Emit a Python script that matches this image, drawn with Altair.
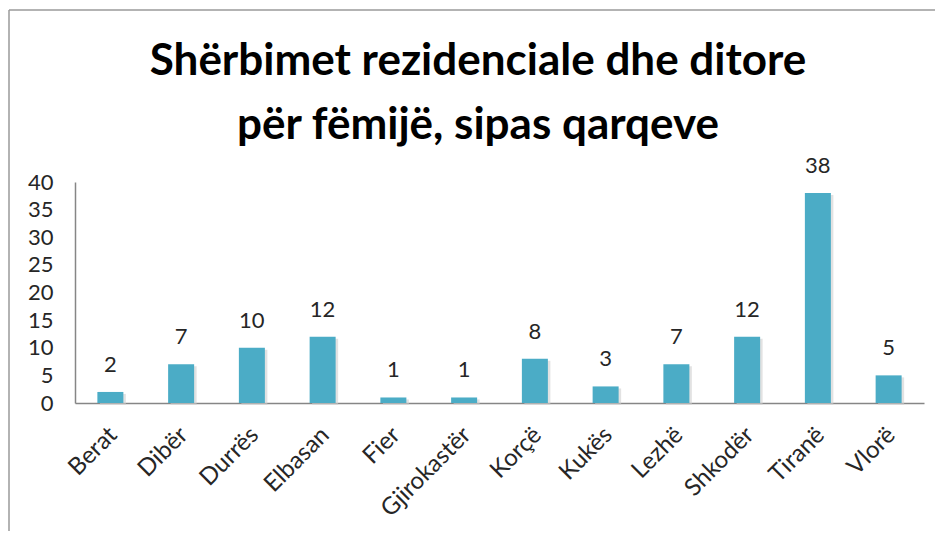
import altair as alt
import pandas as pd

categories = ["Berat", "Dibër", "Durrës", "Elbasan", "Fier", "Gjirokastër",
              "Korçë", "Kukës", "Lezhë", "Shkodër", "Tiranë", "Vlorë"]
values = [2, 7, 10, 12, 1, 1, 8, 3, 7, 12, 38, 5]
y_ticks = [0, 5, 10, 15, 20, 25, 30, 35, 40]
title_lines = ["Shërbimet rezidenciale dhe ditore", "për fëmijë, sipas qarqeve"]

df = pd.DataFrame({"qarku": categories, "vlera": values})
one_df = pd.DataFrame({"k": [0]})

FONT = "Lato"
TXT = "#262626"

x_enc = alt.X("qarku:N", sort=categories, title=None,
              axis=alt.Axis(labelAngle=-45, labelAlign="right", labelBaseline="middle",
                            labelPadding=28, labelOffset=3, ticks=False,
                            labelFontSize=24, labelFont=FONT, labelColor=TXT,
                            labelOverlap=False,
                            domainColor="#868686", domainWidth=1.5))
y_enc = alt.Y("vlera:Q", title=None,
              scale=alt.Scale(domain=[0, 40], nice=False),
              axis=alt.Axis(values=y_ticks, grid=False, ticks=False, labelPadding=22,
                            labelFontSize=22, labelFont=FONT, labelColor=TXT,
                            labelOverlap=False, labelBound=False,
                            domainColor="#868686", domainWidth=1.5))

base = alt.Chart(df).encode(x=x_enc, y=y_enc)
shadow = base.mark_bar(size=26, color="#cfcfcf", opacity=0.6, xOffset=2.5, yOffset=2)
bars = base.mark_bar(size=26, color="#4BACC6")
labels = base.mark_text(baseline="alphabetic", dy=-20, fontSize=22, font=FONT,
                        color=TXT).encode(text="vlera:Q")

extra = alt.Chart(one_df)
left_line = extra.mark_rule(color="#9a9a9a", strokeWidth=1.5).encode(
    x=alt.value(-66), y=alt.value(-172), y2=alt.value(700))
top_line = extra.mark_rule(color="#9a9a9a", strokeWidth=1.5).encode(
    x=alt.value(-66), x2=alt.value(1000), y=alt.value(-172))
title = extra.mark_text(font=FONT, fontSize=44, fontWeight="bold", color="#000000",
                        align="center", baseline="alphabetic", lineHeight=64).encode(
    x=alt.value(403), y=alt.value(-107), text=alt.value(title_lines))

chart = alt.layer(left_line, top_line, shadow, bars, labels, title).properties(
    width=849, height=221,
    background="white",
    autosize=alt.AutoSizeParams(type="none"),
    padding={"left": 67, "top": 174, "right": 11, "bottom": 128},
).configure_view(strokeWidth=0, stroke="transparent")

chart.save("out.html", embed_options={"renderer": "svg", "actions": False})
